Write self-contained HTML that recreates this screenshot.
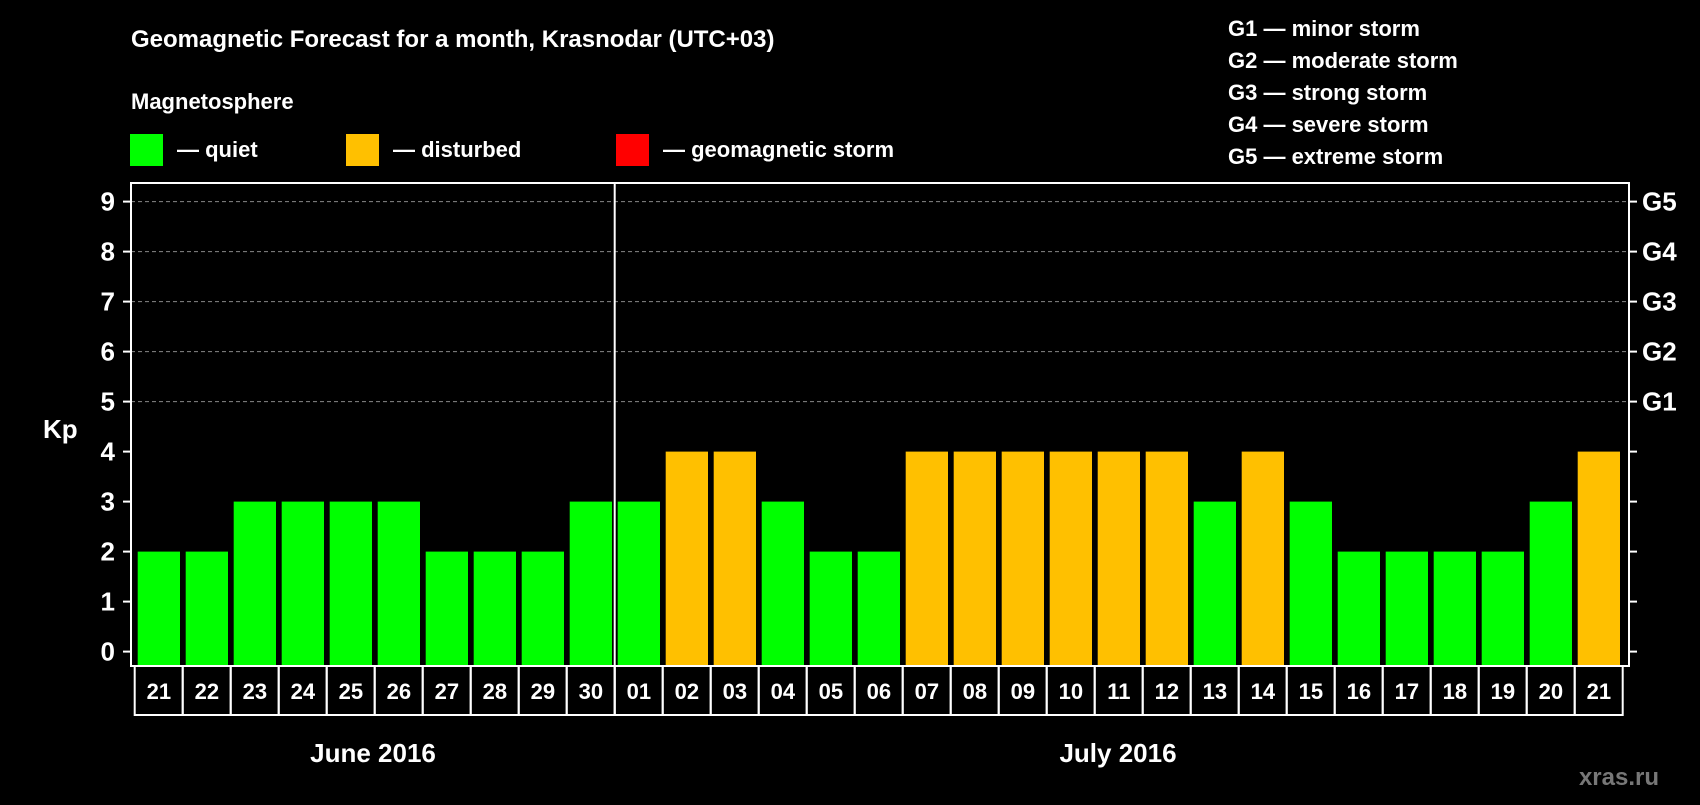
<!DOCTYPE html>
<html><head><meta charset="utf-8">
<style>
body{margin:0;background:#000;width:1700px;height:800px;overflow:hidden}
svg text{font-family:"Liberation Sans",Arial,sans-serif;font-weight:bold;fill:#fff}
</style></head>
<body>
<svg id="chart" width="1700" height="800" xmlns="http://www.w3.org/2000/svg">
<rect width="1700" height="800" fill="#000"/>
<text x="131" y="47" font-size="24">Geomagnetic Forecast for a month, Krasnodar (UTC+03)</text>
<text x="131" y="109" font-size="22">Magnetosphere</text>
<rect x="130" y="134" width="33" height="32" fill="#00ff00"/>
<text x="177" y="157" font-size="22">— quiet</text>
<rect x="346" y="134" width="33" height="32" fill="#ffc000"/>
<text x="393" y="157" font-size="22">— disturbed</text>
<rect x="616" y="134" width="33" height="32" fill="#ff0000"/>
<text x="663" y="157" font-size="22">— geomagnetic storm</text>
<g font-size="22">
<text x="1228" y="36">G1 — minor storm</text>
<text x="1228" y="68">G2 — moderate storm</text>
<text x="1228" y="100">G3 — strong storm</text>
<text x="1228" y="132">G4 — severe storm</text>
<text x="1228" y="164">G5 — extreme storm</text>
</g>
<text x="43" y="438" font-size="26">Kp</text>
<g id="grid"></g><g id="bars"></g><g id="axes"></g>
<text x="373" y="762" font-size="26" text-anchor="middle">June 2016</text>
<text x="1118" y="762" font-size="26" text-anchor="middle">July 2016</text>
<text x="1659" y="785" font-size="24" text-anchor="end" style="fill:#777">xras.ru</text>
</svg>
<script>
const days=["21","22","23","24","25","26","27","28","29","30","01","02","03","04","05","06","07","08","09","10","11","12","13","14","15","16","17","18","19","20","21"];
const kp=[2,2,3,3,3,3,2,2,2,3,3,4,4,3,2,2,4,4,4,4,4,4,3,4,3,2,2,2,2,3,4];
const yTicks=[0,1,2,3,4,5,6,7,8,9];
const gLabels=["G1","G2","G3","G4","G5"];
const NS="http://www.w3.org/2000/svg";
const L=131,R=1629,T=183,B=666,Y0=651.6,UNIT=50,X0=137.7,STEP=48,BW=42.3;
const y=v=>Y0-v*UNIT, x=i=>X0+i*STEP;
function mk(tag,attrs,parent){const e=document.createElementNS(NS,tag);for(const k in attrs)e.setAttribute(k,attrs[k]);parent.appendChild(e);return e;}
const grid=document.getElementById('grid'),bars=document.getElementById('bars'),axes=document.getElementById('axes');
yTicks.forEach(v=>{
  if(v>=5){const l=mk('line',{x1:L,x2:R,y1:y(v),y2:y(v),stroke:'#888','stroke-dasharray':'4,3','stroke-width':1},grid);
  
  }
  const t=mk('line',{x1:L-8,x2:L,y1:y(v),y2:y(v),stroke:'#fff','stroke-width':2},axes);
  
  
  const t2=mk('line',{x1:R,x2:R+8,y1:y(v),y2:y(v),stroke:'#fff','stroke-width':2},axes);
  
  
  const lb=mk('text',{x:115,y:y(v)+9,'font-size':26,'text-anchor':'end'},axes);lb.textContent=v;
  
  
});
gLabels.forEach((g,i)=>{
  const lb=mk('text',{x:1642,y:y(5+i)+9,'font-size':26},axes);lb.textContent=g;
  
  
});
kp.forEach((v,i)=>{
  const c=v>=5?'#ff0000':(v>=4?'#ffc000':'#00ff00');
  const r=mk('rect',{x:x(i),y:y(v),width:BW,height:B-y(v),fill:c},bars);
  
  
  const bx=mk('rect',{x:x(i)-3,y:B,width:STEP,height:49,fill:'none',stroke:'#fff','stroke-width':2},axes);
  
  
  const t=mk('text',{x:x(i)+BW/2,y:B+33,'font-size':22,'text-anchor':'middle'},axes);t.textContent=days[i];
  
  
});
const fr=mk('rect',{x:L,y:T,width:R-L,height:B-T,fill:'none',stroke:'#fff','stroke-width':2},axes);


const dv=mk('line',{x1:x(10)-3,x2:x(10)-3,y1:T,y2:B+49,stroke:'#fff','stroke-width':2},axes);


</script>
</body></html>
